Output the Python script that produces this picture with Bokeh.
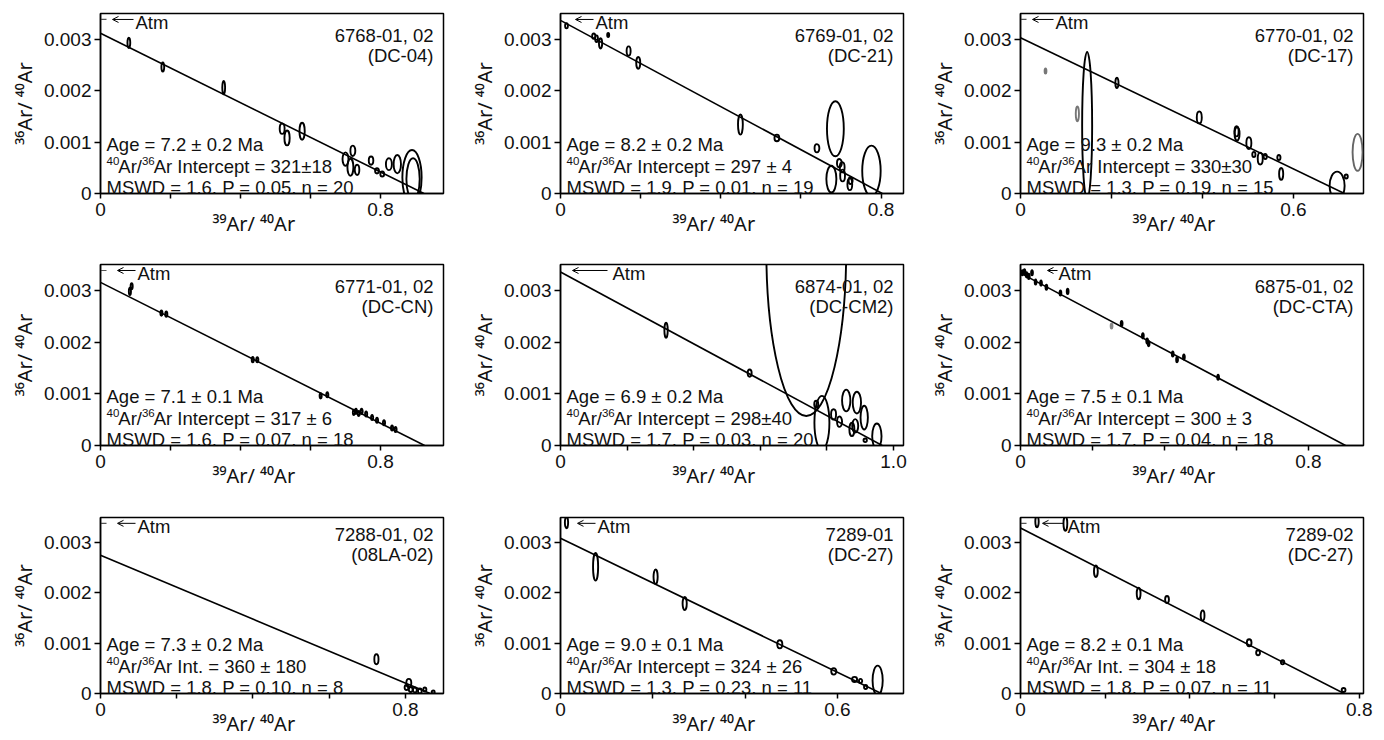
import math
from bokeh.plotting import figure
from bokeh.models import Range1d, FixedTicker, CustomJSTickFormatter, Label, Arrow, OpenHead
from bokeh.layouts import gridplot
from bokeh.embed import file_html
from bokeh.resources import INLINE

# ---------------- panel metadata ----------------
sample_ids = ["6768-01, 02", "6769-01, 02", "6770-01, 02",
              "6771-01, 02", "6874-01, 02", "6875-01, 02",
              "7288-01, 02", "7289-01", "7289-02"]
sample_names = ["(DC-04)", "(DC-21)", "(DC-17)",
                "(DC-CN)", "(DC-CM2)", "(DC-CTA)",
                "(08LA-02)", "(DC-27)", "(DC-27)"]
age_text = ["Age = 7.2 ± 0.2 Ma", "Age = 8.2 ± 0.2 Ma", "Age = 9.3 ± 0.2 Ma",
            "Age = 7.1 ± 0.1 Ma", "Age = 6.9 ± 0.2 Ma", "Age = 7.5 ± 0.1 Ma",
            "Age = 7.3 ± 0.2 Ma", "Age = 9.0 ± 0.1 Ma", "Age = 8.2 ± 0.1 Ma"]
intercept_text = ["Ar Intercept = 321±18", "Ar Intercept = 297 ± 4",
                  "Ar Intercept = 330±30", "Ar Intercept = 317 ± 6",
                  "Ar Intercept = 298±40", "Ar Intercept = 300 ± 3",
                  "Ar Int. = 360 ± 180", "Ar Intercept = 324 ± 26",
                  "Ar Int. = 304 ± 18"]
mswd_text = ["MSWD = 1.6, P = 0.05, n = 20", "MSWD = 1.9, P = 0.01, n = 19",
             "MSWD = 1.3, P = 0.19, n = 15", "MSWD = 1.6, P = 0.07, n = 18",
             "MSWD = 1.7, P = 0.03, n = 20", "MSWD = 1.7, P = 0.04, n = 18",
             "MSWD = 1.8, P = 0.10, n = 8", "MSWD = 1.3, P = 0.23, n = 11",
             "MSWD = 1.8, P = 0.07, n = 11"]
x_title = "³⁹Ar/ ⁴⁰Ar"
y_title = "³⁶Ar/ ⁴⁰Ar"
x_max = [0.98, 0.856, 0.754, 0.98, 1.03, 0.953, 0.90, 0.743, 0.81]
x_label_tick = [0.8, 0.8, 0.6, 0.8, 1.0, 0.8, 0.8, 0.6, 0.8]
y_ticks = [0, 0.001, 0.002, 0.003]
Y_MAX = 0.0035
ATM = 1 / 295.5

# isochron fit lines: y-intercept (36/40) and x-intercept (39/40)
line_y0 = [1 / 321, 1 / 297, 1 / 330, 1 / 317, 1 / 298, 1 / 300, 0.00275, 1 / 324, 1 / 304]
line_x0 = [0.924, 0.803, 0.712, 0.926, 0.966, 0.903, 0.865, 0.695, 0.764]

# ---------------- ellipse data (x, y, width, height) ----------------
x_6768 = [0.081, 0.178, 0.352, 0.519, 0.533, 0.576, 0.700, 0.714, 0.721, 0.733, 0.773, 0.790, 0.805, 0.824, 0.848, 0.890, 0.893]
y_6768 = [0.00293, 0.00246, 0.00206, 0.00126, 0.00108, 0.00121, 0.00067, 0.00051, 0.00083, 0.00046, 0.00064, 0.00044, 0.00038, 0.00057, 0.00057, 0.00031, 0.00028]
w_6768 = [0.008, 0.008, 0.008, 0.014, 0.015, 0.015, 0.017, 0.017, 0.014, 0.013, 0.013, 0.011, 0.011, 0.017, 0.021, 0.055, 0.038]
h_6768 = [0.0002, 0.00018, 0.00026, 0.0002, 0.00029, 0.00033, 0.00026, 0.00033, 0.0002, 0.0002, 0.00016, 0.0001, 0.0001, 0.00023, 0.00036, 0.00107, 0.00081]

x_6769 = [0.015, 0.083, 0.090, 0.100, 0.119, 0.170, 0.194, 0.449, 0.540, 0.640, 0.686, 0.676, 0.696, 0.703, 0.704, 0.722, 0.724, 0.776]
y_6769 = [0.00326, 0.00306, 0.00301, 0.00292, 0.00308, 0.00277, 0.00254, 0.00134, 0.00108, 0.00088, 0.00126, 0.00028, 0.00059, 0.00051, 0.00035, 0.00018, 0.00025, 0.00044]
w_6769 = [0.007, 0.008, 0.007, 0.008, 0.005, 0.010, 0.010, 0.012, 0.012, 0.012, 0.042, 0.025, 0.012, 0.012, 0.012, 0.012, 0.010, 0.046]
h_6769 = [0.0001, 0.0001, 0.00013, 0.0002, 0.00008, 0.00018, 0.00023, 0.00039, 0.00013, 0.00016, 0.00107, 0.00052, 0.00016, 0.0002, 0.00023, 0.00023, 0.00013, 0.00098]

x_6770 = [0.055, 0.125, 0.1465, 0.212, 0.393, 0.476, 0.475, 0.502, 0.513, 0.527, 0.538, 0.568, 0.573, 0.696, 0.716, 0.741]
y_6770 = [0.00238, 0.00155, 0.00132, 0.00215, 0.00148, 0.00116, 0.00121, 0.00098, 0.00076, 0.00068, 0.00072, 0.0007, 0.00038, 0.00015, 0.00033, 0.0008]
w_6770 = [0.004, 0.007, 0.022, 0.007, 0.011, 0.011, 0.009, 0.011, 0.007, 0.011, 0.007, 0.007, 0.009, 0.033, 0.007, 0.022]
h_6770 = [0.0001, 0.00029, 0.00286, 0.0002, 0.00023, 0.00026, 0.0002, 0.00023, 0.0001, 0.00023, 0.0001, 0.0001, 0.00023, 0.00055, 0.00008, 0.00072]
c_6770 = ["#777777", "#777777"] + ["black"] * 13 + ["#666666"]

x_6771 = [0.084, 0.089, 0.174, 0.188, 0.435, 0.448, 0.629, 0.648, 0.724, 0.730, 0.738, 0.746, 0.759, 0.776, 0.790, 0.810, 0.833, 0.843]
y_6771 = [0.00298, 0.00308, 0.00256, 0.00254, 0.00166, 0.00166, 0.00096, 0.00098, 0.00064, 0.00066, 0.00062, 0.00066, 0.00061, 0.00054, 0.00049, 0.00044, 0.00034, 0.00031]
w_6771 = [0.006] * 18
h_6771 = [0.00014, 0.00012] + [0.0001] * 16

x_6874 = [0.317, 0.568, 0.738, 0.785, 0.768, 0.820, 0.838, 0.858, 0.890, 0.912, 0.875, 0.885, 0.915, 0.950]
y_6874 = [0.00223, 0.0014, 0.0038, 0.00044, 0.0008, 0.0006, 0.00046, 0.00087, 0.00083, 0.00054, 0.00031, 0.00038, 0.0001, 0.00018]
w_6874 = [0.010, 0.012, 0.24, 0.045, 0.012, 0.015, 0.015, 0.025, 0.025, 0.022, 0.015, 0.018, 0.010, 0.028]
h_6874 = [0.00029, 0.00014, 0.00646, 0.00104, 0.00013, 0.0002, 0.0002, 0.00042, 0.00042, 0.00046, 0.00026, 0.00026, 0.00007, 0.00049]

x_6875 = [0.005, 0.011, 0.017, 0.023, 0.032, 0.042, 0.057, 0.072, 0.111, 0.131, 0.253, 0.281, 0.340, 0.352, 0.356, 0.423, 0.435, 0.454, 0.549]
y_6875 = [0.00334, 0.00336, 0.0033, 0.00327, 0.00334, 0.00316, 0.00314, 0.00306, 0.00295, 0.00298, 0.00231, 0.00236, 0.00212, 0.00202, 0.00197, 0.00177, 0.00166, 0.00171, 0.00132]
w_6875 = [0.005] * 19
h_6875 = [0.0001] * 19
c_6875 = ["black"] * 10 + ["#888888"] + ["black"] * 8

x_7288 = [0.724, 0.809, 0.814, 0.825, 0.838, 0.851, 0.873, 0.803]
y_7288 = [0.00068, 0.00021, 0.00008, 0.00007, 0.00005, 0.00008, 0.00003, 0.00012]
w_7288 = [0.011, 0.013, 0.010, 0.010, 0.010, 0.008, 0.008, 0.010]
h_7288 = [0.0002, 0.00016, 0.0001, 0.0001, 0.0001, 0.00008, 0.00006, 0.0001]

x_7289a = [0.013, 0.076, 0.206, 0.269, 0.475, 0.592, 0.637, 0.650, 0.661, 0.687]
y_7289a = [0.0034, 0.00252, 0.00232, 0.00179, 0.00098, 0.00044, 0.00028, 0.00025, 0.00013, 0.00026]
w_7289a = [0.007, 0.011, 0.009, 0.009, 0.011, 0.011, 0.011, 0.007, 0.007, 0.022]
h_7289a = [0.00023, 0.00055, 0.00029, 0.00026, 0.00016, 0.00013, 0.0001, 0.00008, 0.00008, 0.00059]

x_7289b = [0.039, 0.106, 0.178, 0.279, 0.346, 0.430, 0.540, 0.561, 0.619, 0.763]
y_7289b = [0.00342, 0.00338, 0.00243, 0.00199, 0.00187, 0.00155, 0.00101, 0.00081, 0.00062, 0.00007]
w_7289b = [0.008, 0.009, 0.009, 0.009, 0.009, 0.009, 0.011, 0.009, 0.008, 0.009]
h_7289b = [0.00023, 0.00029, 0.00023, 0.00023, 0.00014, 0.0002, 0.00014, 0.0001, 0.00008, 0.00008]

panel_x = [x_6768, x_6769, x_6770, x_6771, x_6874, x_6875, x_7288, x_7289a, x_7289b]
panel_y = [y_6768, y_6769, y_6770, y_6771, y_6874, y_6875, y_7288, y_7289a, y_7289b]
panel_w = [w_6768, w_6769, w_6770, w_6771, w_6874, w_6875, w_7288, w_7289a, w_7289b]
panel_h = [h_6768, h_6769, h_6770, h_6771, h_6874, h_6875, h_7288, h_7289a, h_7289b]
panel_c = [None, None, c_6770, None, None, c_6875, None, None, None]

# "<- Atm" marker positions (pixels from frame left)
atm_tip_px = [12, 15, 12, 17, 12, 27, 17, 17, 22]
atm_tail_px = [33, 33, 33, 35, 47, 37, 35, 35, 43]
atm_text_px = [35, 35, 35, 37, 52, 38, 37, 37, 47]
atm_dash = [True, False, True, True, False, False, True, False, True]

# ---------------- layout ----------------
FRAME_W = 343
col_left = [100, 100, 100]
col_right = [17, 17, 15]
row_top = [13, 15, 15]
row_frame_h = [180, 181, 181]
row_bottom = [56, 57, 41]

FONT = "Liberation Sans"
TITLE_FONT = "Noto Sans"
INK = "#111111"
NBSP = "\u00a0"
# Arial/Liberation advance widths (em) for laying out superscript runs
ADV = {"0": .556, "1": .556, "2": .556, "3": .556, "4": .556, "5": .556, "6": .556,
       "7": .556, "8": .556, "9": .556, "A": .667, "r": .333, "/": .278, " ": .278}


def run_width(s, size):
    return sum(ADV.get(ch, .556) for ch in s) * size


def rich_label(p, segs, x, y, size, sup_size, rise):
    """Place a run of normal / superscript texts as separate Labels (screen units)."""
    pos = x
    for t, s in segs:
        fs = sup_size if s else size
        p.add_layout(Label(x=pos, y=y + (rise if s else 0), x_units="screen", y_units="screen",
                           text=t, text_align="left", text_baseline="alphabetic",
                           text_font=FONT, text_font_size=f"{fs}px", text_color=INK))
        pos += run_width(t, fs) - (1.0 if s else 0.0)


figs = []
for i in range(9):
    r, c = divmod(i, 3)
    H = row_frame_h[r]
    p = figure(width=col_left[c] + FRAME_W + col_right[c],
               height=row_top[r] + H + row_bottom[r],
               x_range=Range1d(0, x_max[i]), y_range=Range1d(0, Y_MAX),
               output_backend="svg", toolbar_location=None,
               min_border_left=col_left[c], min_border_right=col_right[c],
               min_border_top=row_top[r], min_border_bottom=row_bottom[r])
    p.grid.visible = False
    p.outline_line_color = "black"
    p.outline_line_width = 1.5
    p.outline_line_alpha = 1.0
    p.background_fill_color = "white"
    p.border_fill_color = "white"

    minor = [t for t in (0.2, 0.4, 0.6, 0.8) if t < x_max[i] and abs(t - x_label_tick[i]) > 1e-9]
    p.xaxis.ticker = FixedTicker(ticks=[0, x_label_tick[i]], minor_ticks=minor)
    p.xaxis.formatter = CustomJSTickFormatter(code="return tick == 0 ? '0' : tick.toFixed(1);")
    p.yaxis.ticker = FixedTicker(ticks=y_ticks)
    p.yaxis.formatter = CustomJSTickFormatter(code="return tick == 0 ? '0' : tick.toFixed(3);")
    for ax in (p.xaxis[0], p.yaxis[0]):
        ax.axis_line_width = 1.5
        ax.axis_line_color = "black"
        ax.major_tick_line_width = 1.5
        ax.minor_tick_line_width = 1.5
        ax.major_tick_line_color = "black"
        ax.minor_tick_line_color = "black"
        ax.major_tick_in = 0
        ax.minor_tick_in = 0
        ax.major_label_text_font = FONT
        ax.major_label_text_font_size = "19px"
        ax.major_label_text_color = INK
        ax.axis_label_text_font = TITLE_FONT
        ax.axis_label_text_font_size = "20px"
        ax.axis_label_text_font_style = "normal"
        ax.axis_label_text_color = INK
    p.xaxis.major_tick_out = 5
    p.xaxis.minor_tick_out = 5
    p.xaxis.major_label_standoff = 4
    p.yaxis.major_tick_out = 6
    p.yaxis.major_label_standoff = 3
    # titles: the x title sits left of centre in the original -> pad on the right
    p.xaxis.axis_label = x_title + NBSP * 7
    p.xaxis.axis_label_standoff = -9
    p.yaxis.axis_label = y_title
    p.yaxis.axis_label_standoff = 3

    # isochron line
    p.line(x=[0, line_x0[i]], y=[line_y0[i], 0], line_color="black", line_width=1.6)

    # error ellipses
    cols = panel_c[i] if panel_c[i] is not None else ["black"] * len(panel_x[i])
    p.ellipse(x=panel_x[i], y=panel_y[i], width=panel_w[i], height=panel_h[i],
              fill_color=None, line_color=cols, line_width=1.9)

    # atmospheric marker
    px_to_x = x_max[i] / FRAME_W
    if atm_dash[i]:
        p.segment(x0=[0], y0=[ATM], x1=[6 * px_to_x], y1=[ATM], line_color="#555555", line_width=1.2)
    p.add_layout(Arrow(end=OpenHead(size=6, line_width=1, line_color="black"),
                       x_start=atm_tail_px[i] * px_to_x, y_start=ATM,
                       x_end=atm_tip_px[i] * px_to_x, y_end=ATM,
                       line_width=1, line_color="black"))
    p.add_layout(Label(x=atm_text_px[i], y=ATM, x_units="screen", y_units="data",
                       text="Atm", text_font=FONT, text_font_size="18.5px",
                       text_baseline="middle", y_offset=-3, text_color=INK))

    # sample id (top right)
    p.add_layout(Label(x=FRAME_W - 10, y=H - 22, x_units="screen", y_units="screen",
                       text=sample_ids[i], text_align="right", text_baseline="alphabetic",
                       text_font=FONT, text_font_size="18.5px", text_color=INK))
    p.add_layout(Label(x=FRAME_W - 10, y=H - 42, x_units="screen", y_units="screen",
                       text=sample_names[i], text_align="right", text_baseline="alphabetic",
                       text_font=FONT, text_font_size="18.5px", text_color=INK))

    # statistics
    p.add_layout(Label(x=6, y=49, x_units="screen", y_units="screen", text=age_text[i],
                       text_baseline="alphabetic", text_font=FONT,
                       text_font_size="18.5px", text_color=INK))
    rich_label(p, [("40", True), ("Ar/", False), ("36", True), (intercept_text[i], False)],
               6, 27, 18.5, 11.5, 6)
    p.add_layout(Label(x=6, y=6, x_units="screen", y_units="screen", text=mswd_text[i],
                       text_baseline="alphabetic", text_font=FONT,
                       text_font_size="18.5px", text_color=INK))
    figs.append(p)

grid = gridplot([figs[0:3], figs[3:6], figs[6:9]], toolbar_location=None)
open("out.html", "w").write(file_html(grid, INLINE))
